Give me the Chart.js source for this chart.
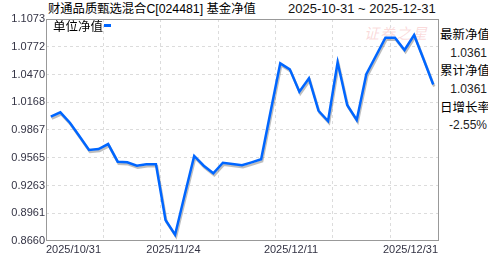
<!DOCTYPE html>
<html lang="zh-CN">
<head>
  <meta charset="UTF-8" />
  <title>财通品质甄选混合C 基金净值</title>
  <script src="https://cdn.jsdelivr.net/npm/chart.js"></script>
  <style>
    body {
      margin: 0; padding: 0; background: #fff;
      font-family: "Liberation Sans", "Noto Sans CJK SC", sans-serif;
    }
    .wrap {
      position: relative;
      width: 488px; height: 255px;
      overflow: hidden;
    }
    #navChart { position: absolute; left: 0; top: 0; z-index: 2; }
    .txt {
      position: absolute;
      white-space: nowrap;
      line-height: 14px;
      color: #000;
    }
    .title { left: 48px; top: 2px; font-size: 12.3px; }
    .range { left: 288px; top: 2px; font-size: 13px; color: #111; }
    .legend { left: 53px; top: 20px; font-size: 12.5px; z-index: 3; }
    .legend-mark {
      position: absolute; left: 104px; top: 24px;
      width: 7px; height: 3px; background: #0066ff; z-index: 3;
    }
    .side { left: 440px; font-size: 12.5px; }
    .side-val { right: 1px; font-size: 12px; color: #222; }
    .mark {
      position: absolute; left: 364px; top: 22px; z-index: 1;
      font-size: 15px; letter-spacing: 1px;
      color: rgba(235, 110, 110, 0.25);
      font-style: italic;
    }
  </style>
</head>
<body>

  <div class="wrap">
    <div class="mark">证券之星</div>
    <canvas id="navChart" width="488" height="255"></canvas>

    <div class="txt title">财通品质甄选混合C[024481] 基金净值</div>
    <div class="txt range">2025-10-31 ~ 2025-12-31</div>

    <div class="txt legend">单位净值</div>
    <div class="legend-mark"></div>

    <div class="txt side" style="top:28px">最新净值</div>
    <div class="txt side-val" style="top:46px">1.0361</div>
    <div class="txt side" style="top:64px">累计净值</div>
    <div class="txt side-val" style="top:82px">1.0361</div>
    <div class="txt side" style="top:101px">日增长率</div>
    <div class="txt side-val" style="top:118px">-2.55%</div>
  </div>

  <script>
    // 单位净值, one value per trading day shown
    const navValues = [
      1.0011, 1.0059, 0.9946, 0.9798, 0.9649, 0.9660, 0.9714, 0.9522, 0.9515, 0.9478,
      0.9494, 0.9494, 0.8888, 0.8728, 0.9160, 0.9584, 0.9478, 0.9396, 0.9511, 0.9497,
      0.9483, 0.9515, 0.9548, 1.0073, 1.0591, 1.0526, 1.0283, 1.0428, 1.0076, 0.9964,
      1.0602, 1.0138, 0.9975, 1.0472, 1.0671, 1.0870, 1.0870, 1.0736, 1.0899, 1.0632,
      1.0361
    ];

    const yTicks = [0.8660, 0.8961, 0.9263, 0.9565, 0.9867, 1.0168, 1.0470, 1.0772, 1.1073];

    const dateLabels = ['2025/10/31', '2025/11/24', '2025/12/11', '2025/12/31'];
    const dateIndex = [0, 13, 25, 40];

    const pointIds = navValues.map((v, i) => i);

    const boxPlugin = {
      id: 'box',
      beforeDatasetsDraw(chart) {
        const { ctx, chartArea: a } = chart;
        ctx.save();
        ctx.strokeStyle = '#999';
        ctx.lineWidth = 1;
        ctx.strokeRect(Math.round(a.left) + 0.5, Math.round(a.top) + 0.5,
          Math.round(a.right - a.left), Math.round(a.bottom - a.top) - 1);
        ctx.restore();
      },
      beforeDatasetDraw(chart) {
        const ctx = chart.ctx;
        ctx.save();
        ctx.shadowColor = 'rgba(110,110,110,0.45)';
        ctx.shadowOffsetX = 1;
        ctx.shadowOffsetY = 2;
        ctx.shadowBlur = 0.5;
      },
      afterDatasetDraw(chart) {
        chart.ctx.restore();
      }
    };

    new Chart(document.getElementById('navChart'), {
      type: 'line',
      data: {
        labels: pointIds,
        datasets: [{
          label: '单位净值',
          data: navValues,
          xAxisID: 'x',
          borderColor: '#0066ff',
          borderWidth: 2.5,
          pointRadius: 0,
          tension: 0,
          fill: false
        }]
      },
      options: {
        responsive: false,
        animation: false,
        layout: { padding: { top: 19, right: 50, left: 0, bottom: 0 } },
        plugins: {
          legend: { display: false },
          tooltip: { enabled: false }
        },
        scales: {
          x: {
            type: 'category',
            position: 'bottom',
            offset: true,
            ticks: { display: false, autoSkip: false },
            grid: {
              offset: true,
              drawTicks: false,
              lineWidth: 1,
              color: c => (c.index > 0 && c.index % 6 === 0) ? '#dcdcdc' : 'transparent'
            },
            border: { display: false, dash: [3, 3] },
            afterFit: s => { s.height = 0; }
          },
          xl: {
            type: 'category',
            position: 'bottom',
            labels: pointIds,
            offset: false,
            grid: { display: false, drawTicks: false },
            border: { display: false },
            ticks: {
              autoSkip: false,
              maxRotation: 0,
              minRotation: 0,
              align: 'inner',
              padding: 2,
              color: '#334',
              font: { family: '"Liberation Sans", Arial, sans-serif', size: 11 },
              callback: (v, i) => {
                const k = dateIndex.indexOf(i);
                return k >= 0 ? dateLabels[k] : '';
              }
            },
            afterFit: s => { s.height = 14; }
          },
          y: {
            min: yTicks[0],
            max: yTicks[yTicks.length - 1],
            afterBuildTicks: s => { s.ticks = yTicks.map(v => ({ value: v })); },
            afterFit: s => { s.width = 46; },
            ticks: {
              padding: 1,
              color: '#334',
              font: { family: '"Liberation Sans", Arial, sans-serif', size: 11 },
              callback: v => Number(v).toFixed(4)
            },
            grid: {
              drawTicks: false,
              color: c => (c.index > 0 && c.index < yTicks.length - 1) ? '#dcdcdc' : 'transparent'
            },
            border: { display: false, dash: [3, 3] }
          }
        }
      },
      plugins: [boxPlugin]
    });
  </script>

</body>
</html>
